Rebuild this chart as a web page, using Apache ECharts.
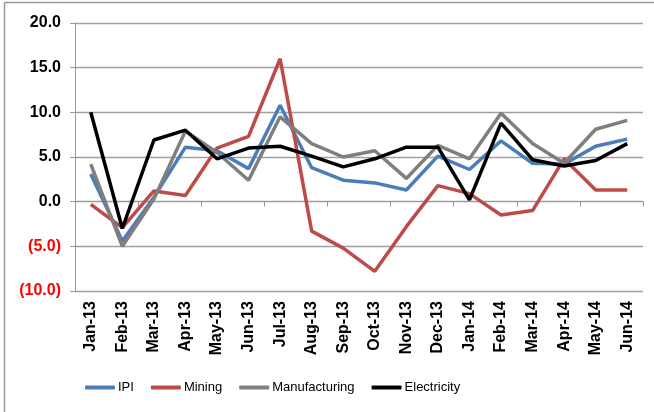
<!DOCTYPE html>
<html>
<head>
<meta charset="utf-8">
<script src="https://cdn.jsdelivr.net/npm/echarts@6/dist/echarts.min.js"></script>
<style>html,body{margin:0;padding:0;background:#fff}#c{width:654px;height:412px}</style>
</head>
<body>
<div id="c"></div>
<script>
var categories = ['Jan-13','Feb-13','Mar-13','Apr-13','May-13','Jun-13','Jul-13','Aug-13','Sep-13','Oct-13','Nov-13','Dec-13','Jan-14','Feb-14','Mar-14','Apr-14','May-14','Jun-14'];
var ipi = [3.1,-4.4,0.5,6.1,5.7,3.7,10.8,3.8,2.4,2.1,1.3,5.1,3.6,6.8,4.3,4.2,6.2,7.0];
var mining = [-0.3,-2.9,1.2,0.7,6.0,7.3,16.0,-3.3,-5.2,-7.8,-2.8,1.8,0.9,-1.5,-1.0,4.8,1.3,1.3];
var manufacturing = [4.2,-5.0,0.3,7.9,5.5,2.4,9.5,6.5,5.0,5.7,2.6,6.3,4.8,9.9,6.5,4.3,8.1,9.1];
var electricity = [10.0,-3.0,6.9,8.0,4.8,6.0,6.2,5.1,3.9,4.8,6.1,6.1,0.2,8.8,4.7,4.0,4.6,6.5];
var yTicks = {min: -10, max: 20, interval: 5};

var chart = echarts.init(document.getElementById('c'), null, {renderer: 'canvas'});
var FONT = 'Liberation Sans, Arial, sans-serif';
function fmt(v) {
  return v < 0 ? '{neg|(' + Math.abs(v).toFixed(1) + ')}' : '{pos|' + v.toFixed(1) + '}';
}
function mk(name, data, color) {
  return {name: name, type: 'line', data: data, symbol: 'none', xAxisIndex: 0,
    lineStyle: {color: color, width: 3.5}, itemStyle: {color: color}, animation: false};
}
chart.setOption({
  animation: false,
  grid: {left: 75, right: 11, top: 23, bottom: 121, containLabel: false},
  xAxis: [{
    type: 'category', data: categories, boundaryGap: true,
    axisLine: {show: false, onZero: false},
    axisTick: {show: false},
    axisLabel: {rotate: 90, interval: 0, margin: 10, color: '#000', fontWeight: 'bold',
      fontSize: 16, fontFamily: FONT}
  }, {
    type: 'category', data: categories, boundaryGap: true, position: 'bottom',
    axisLine: {show: true, onZero: true, lineStyle: {color: '#999', width: 1}},
    axisTick: {show: true, inside: false, length: 5, lineStyle: {color: '#999'}},
    axisLabel: {show: false}
  }],
  yAxis: {
    type: 'value', min: yTicks.min, max: yTicks.max, interval: yTicks.interval,
    axisLine: {show: true, lineStyle: {color: '#999', width: 1}},
    axisTick: {show: true, length: 5, lineStyle: {color: '#999'}},
    splitLine: {show: true, lineStyle: {color: '#a0a0a0', width: 1.3}},
    axisLabel: {
      margin: 14, formatter: fmt,
      rich: {
        pos: {color: '#000', fontWeight: 'bold', fontSize: 16, fontFamily: FONT},
        neg: {color: '#ff0000', fontWeight: 'bold', fontSize: 16, fontFamily: FONT}
      }
    }
  },
  legend: {
    bottom: 18, left: 85, padding: 0, itemWidth: 30, itemHeight: 4, itemGap: 17,
    icon: 'roundRect',
    textStyle: {color: '#000', fontSize: 13, fontFamily: FONT, padding: [0, 0, 0, -2]},
    data: ['IPI', 'Mining', 'Manufacturing', 'Electricity']
  },
  graphic: [
    {type: 'line', shape: {x1: 4.5, y1: 2.5, x2: 654, y2: 2.5}, style: {stroke: '#999', lineWidth: 1.5}, silent: true},
    {type: 'line', shape: {x1: 4.5, y1: 2.5, x2: 4.5, y2: 412}, style: {stroke: '#999', lineWidth: 1.5}, silent: true}
  ],
  series: [
    mk('IPI', ipi, '#4a7ebb'),
    mk('Mining', mining, '#be4b48'),
    mk('Manufacturing', manufacturing, '#7f7f7f'),
    mk('Electricity', electricity, '#000000')
  ]
});
</script>
</body>
</html>
